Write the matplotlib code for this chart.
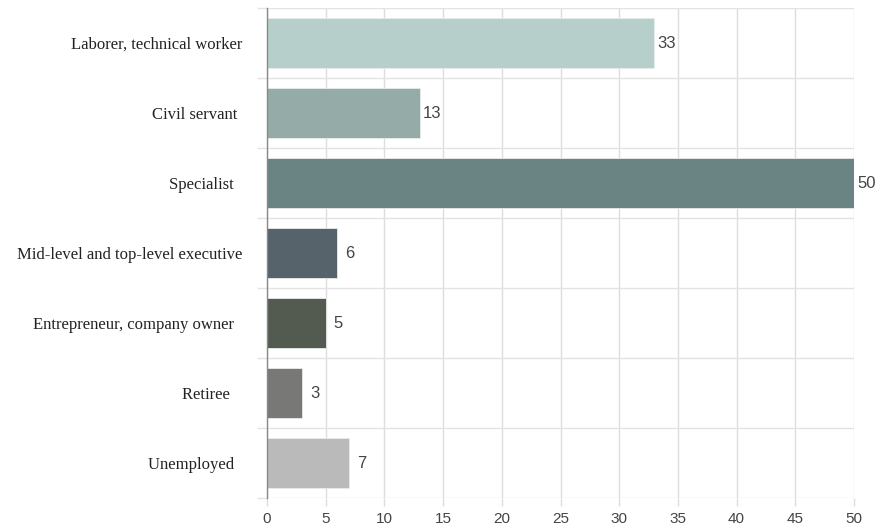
import matplotlib.pyplot as plt
import numpy as np

categorias = ['Laborer, technical worker', 'Civil servant ', 'Specialist  ',
              'Mid-level and top-level executive', 'Entrepreneur, company owner  ',
              'Retiree   ', 'Unemployed  ']
valores = [33, 13, 50, 6, 5, 3, 7]
colores = ['#b7cfcb', '#94aba7', '#6a8483', '#56636b', '#535b51', '#787877', '#bababa']
ticks_x = [0, 5, 10, 15, 20, 25, 30, 35, 40, 45, 50]

fig = plt.figure(figsize=(8.78, 5.26), dpi=100)
ax = fig.add_axes([267 / 878, 28 / 526, 587 / 878, 490 / 526])

y = np.arange(len(categorias))
ax.barh(y, valores, height=0.72, color=colores,
        edgecolor='#e8ecea', linewidth=0.6, zorder=2)

# etiquetas con el valor al final de cada barra
for yi, v in zip(y, valores):
    ax.annotate(str(v), (v, yi), xytext=(9, 0), textcoords='offset points',
                ha='center', va='center', fontsize=12, color='#444444',
                family='Liberation Sans')

ax.set_xlim(0, 50)
ax.set_ylim(len(categorias) - 0.5, -0.5)
ax.set_xticks(ticks_x)
ax.set_xticklabels([str(t) for t in ticks_x], family='Liberation Sans',
                   fontsize=11, color='#444444')
ax.set_yticks(y)
ax.set_yticklabels(categorias, family='Liberation Serif', fontsize=12, color='#222222')
ax.set_yticks(np.arange(len(categorias) + 1) - 0.5, minor=True)

ax.tick_params(axis='y', which='major', length=0, pad=18)
ax.tick_params(axis='y', which='minor', length=7, color='#e3e3e3', width=1)
ax.tick_params(axis='x', length=6, color='#dddddd', width=1, pad=4)

ax.grid(axis='x', color='#dddddd', linewidth=1, zorder=0)
ax.grid(axis='y', which='minor', color='#e3e3e3', linewidth=1, zorder=0)

for lado in ['top', 'right', 'bottom']:
    ax.spines[lado].set_visible(False)
ax.spines['left'].set_color('#888888')
ax.spines['left'].set_linewidth(1)
ax.spines['left'].set_zorder(3)

plt.savefig('out.png', dpi=100)
